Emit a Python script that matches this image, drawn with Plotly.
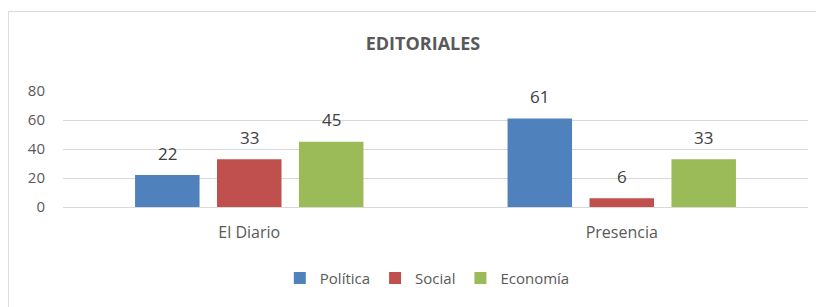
import plotly.graph_objects as go

categories = ["El Diario", "Presencia"]
series_names = ["Política", "Social", "Economía"]
politica = [22, 61]
social = [33, 6]
economia = [45, 33]
y_ticks = [0, 20, 40, 60, 80]

colors = ["#4f81bd", "#c0504d", "#9bbb59"]
FONT = "Open Sans"

W, H = 824, 307
ML, MR, MT, MB = 55, 24, 83, 108
BARGAP, GROUPGAP = 0.34, 0.213

plot_w = W - ML - MR
slot = plot_w / len(categories) * (1 - BARGAP) / len(series_names)

fig = go.Figure()
annotations = []
all_series = [politica, social, economia]
for i, (name, vals, col) in enumerate(zip(series_names, all_series, colors)):
    fig.add_trace(go.Bar(
        x=categories, y=vals, name=name, marker_color=col, marker_line_width=0,
        hoverinfo="x+y+name",
    ))
    shift = (i - (len(series_names) - 1) / 2) * slot
    for c, v in zip(categories, vals):
        annotations.append(dict(
            x=c, y=v, xref="x", yref="y", text=str(v), showarrow=False,
            xshift=shift, yshift=22, yanchor="middle", xanchor="center",
            font=dict(family=FONT, size=17, color="#404040"),
        ))

fig.update_layout(
    width=W, height=H,
    margin=dict(l=ML, r=MR, t=MT, b=MB),
    paper_bgcolor="white", plot_bgcolor="white",
    barmode="group", bargap=BARGAP, bargroupgap=GROUPGAP,
    font=dict(family=FONT, color="#595959"),
    title=dict(text="<b>EDITORIALES</b>", x=415 / W, xref="container", xanchor="center",
               y=1 - 36 / H, yanchor="middle",
               font=dict(family=FONT, size=18, color="#595959")),
    showlegend=True,
    legend=dict(orientation="h", x=0.489, xanchor="center", y=-0.615, yanchor="middle",
                font=dict(family=FONT, size=15, color="#595959"),
                itemwidth=30, traceorder="normal"),
    xaxis=dict(showgrid=False, showline=False, ticks="outside", ticklen=11,
               tickcolor="rgba(0,0,0,0)", tickfont=dict(family=FONT, size=16, color="#595959")),
    yaxis=dict(range=[0, 80], tickvals=y_ticks, showgrid=True, gridcolor="#d9d9d9",
               gridwidth=1, zeroline=True, zerolinecolor="#d9d9d9", zerolinewidth=1,
               showline=False, ticks="outside", ticklen=14, tickcolor="rgba(0,0,0,0)",
               tickfont=dict(family=FONT, size=15, color="#595959")),
    annotations=annotations,
    shapes=[dict(type="rect", xref="paper", yref="paper",
                 x0=-0.0733, x1=1.05, y0=-0.9, y1=1.686,
                 line=dict(color="#d9d9d9", width=1), fillcolor="rgba(0,0,0,0)", layer="below")],
)

fig.write_html("out.html")
